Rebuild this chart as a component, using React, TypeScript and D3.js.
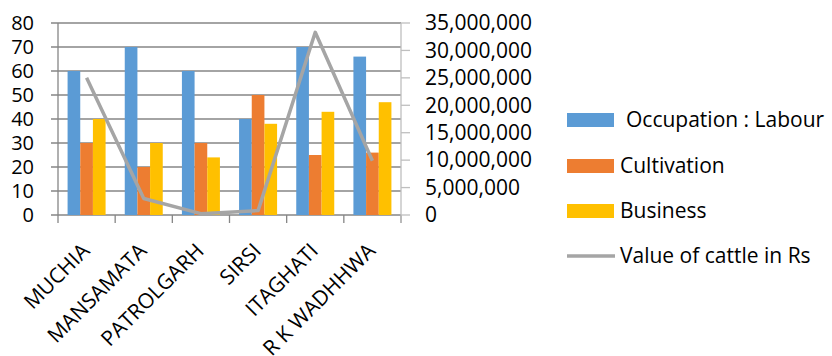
import { useEffect, useRef } from "react";
import * as d3 from "d3";

const villages = ["MUCHIA", "MANSAMATA", "PATROLGARH", "SIRSI", "ITAGHATI", "R K WADHHWA"];
const labour = [60, 70, 60, 40, 70, 66];
const cultivation = [30, 20, 30, 50, 25, 26];
const business = [40, 30, 24, 38, 43, 47];
const cattleValue = [25000000, 3000000, 250000, 800000, 33300000, 9900000];
const leftTicks = [0, 10, 20, 30, 40, 50, 60, 70, 80];
const rightTicks = [0, 5000000, 10000000, 15000000, 20000000, 25000000, 30000000, 35000000];

const seriesNames = ["Occupation : Labour", "Cultivation", "Business"];
const seriesColors = ["#5B9BD5", "#ED7D31", "#FFC000"];

export default function App() {
  const svgRef = useRef<SVGSVGElement>(null);

  useEffect(() => {
    if (!svgRef.current) return;
    const svg = d3.select(svgRef.current);
    svg.selectAll("*").remove();

    const font = "'Open Sans', sans-serif";
    const fs = "21px";
    const left = 58;
    const right = 401;
    const top = 23;
    const bottom = 215;

    const x = d3.scaleBand<string>().domain(villages).range([left, right]);
    const xInner = d3.scaleBand<number>().domain([0, 1, 2]).range([0, 38]);
    const yL = d3.scaleLinear().domain([0, 80]).range([bottom, top]);
    const yR = d3.scaleLinear().domain([0, 35000000]).range([bottom, top]);

    // gridlines + left ticks
    svg
      .append("g")
      .selectAll("line")
      .data(leftTicks)
      .enter()
      .append("line")
      .attr("x1", left - 7)
      .attr("x2", right)
      .attr("y1", (d) => yL(d))
      .attr("y2", (d) => yL(d))
      .style("stroke", "#868686")
      .style("stroke-width", "1.3px");

    // left axis line
    svg
      .append("line")
      .attr("x1", left)
      .attr("x2", left)
      .attr("y1", top)
      .attr("y2", bottom + 8)
      .style("stroke", "#868686")
      .style("stroke-width", "1.3px");

    // category ticks
    const catEdges = villages.map((v) => x(v)!).concat([right]);
    svg
      .append("g")
      .selectAll("line")
      .data(catEdges.slice(1))
      .enter()
      .append("line")
      .attr("x1", (d) => d)
      .attr("x2", (d) => d)
      .attr("y1", bottom)
      .attr("y2", bottom + 8)
      .style("stroke", "#868686")
      .style("stroke-width", "1.3px");

    // left tick labels
    svg
      .append("g")
      .selectAll("text")
      .data(leftTicks)
      .enter()
      .append("text")
      .attr("x", 34)
      .attr("y", (d) => yL(d))
      .attr("dy", "0.35em")
      .attr("text-anchor", "end")
      .style("font-family", font)
      .style("font-size", "20px")
      .style("fill", "#000")
      .text((d) => d);

    // bars
    const seriesData = [labour, cultivation, business];
    seriesData.forEach((vals, si) => {
      svg
        .append("g")
        .selectAll("rect")
        .data(vals)
        .enter()
        .append("rect")
        .attr("x", (d, i) => x(villages[i])! + (x.bandwidth() - 38) / 2 + xInner(si)!)
        .attr("width", xInner.bandwidth())
        .attr("y", (d) => yL(d))
        .attr("height", (d) => bottom - yL(d))
        .style("fill", seriesColors[si]);
    });

    // right axis
    svg
      .append("line")
      .attr("x1", right)
      .attr("x2", right)
      .attr("y1", top)
      .attr("y2", bottom + 8)
      .style("stroke", "#BFBFBF")
      .style("stroke-width", "1.3px");

    svg
      .append("g")
      .selectAll("line")
      .data(rightTicks)
      .enter()
      .append("line")
      .attr("x1", right)
      .attr("x2", right + 9)
      .attr("y1", (d) => yR(d))
      .attr("y2", (d) => yR(d))
      .style("stroke", "#BFBFBF")
      .style("stroke-width", "1.3px");

    svg
      .append("g")
      .selectAll("text")
      .data(rightTicks)
      .enter()
      .append("text")
      .attr("x", 425)
      .attr("y", (d) => yR(d))
      .attr("dy", "0.35em")
      .style("font-family", font)
      .style("font-size", fs)
      .style("fill", "#000")
      .text((d) => d3.format(",")(d));

    // line series
    const line = d3
      .line<number>()
      .x((d, i) => x(villages[i])! + x.bandwidth() / 2)
      .y((d) => yR(d));

    svg
      .append("path")
      .attr("d", line(cattleValue))
      .style("fill", "none")
      .style("stroke", "#A5A5A5")
      .style("stroke-width", "3.5px")
      .style("stroke-linejoin", "round");

    // category labels
    svg
      .append("g")
      .selectAll("text")
      .data(villages)
      .enter()
      .append("text")
      .attr("transform", (d) => `translate(${x(d)! + x.bandwidth() / 2 - 1},${bottom + 32}) rotate(-45)`)
      .attr("text-anchor", "end")
      .attr("dy", "0.35em")
      .style("font-family", font)
      .style("font-size", fs)
      .style("fill", "#000")
      .text((d) => d);

    // legend
    const legendY = [120, 166, 211];
    const legend = svg.append("g");
    seriesNames.forEach((name, i) => {
      legend
        .append("rect")
        .attr("x", 567)
        .attr("y", legendY[i] - 7)
        .attr("width", 47)
        .attr("height", 14)
        .style("fill", seriesColors[i]);
      legend
        .append("text")
        .attr("x", i === 0 ? 626 : 620)
        .attr("y", legendY[i])
        .attr("dy", "0.35em")
        .style("font-family", font)
        .style("font-size", fs)
        .style("fill", "#000")
        .text(name);
    });
    legend
      .append("line")
      .attr("x1", 567)
      .attr("x2", 615)
      .attr("y1", 256)
      .attr("y2", 256)
      .style("stroke", "#A5A5A5")
      .style("stroke-width", "3.5px");
    legend
      .append("text")
      .attr("x", 620)
      .attr("y", 256)
      .attr("dy", "0.35em")
      .style("font-family", font)
      .style("font-size", fs)
      .style("fill", "#000")
      .text("Value of cattle in Rs");
  }, []);

  return (
    <svg
      ref={svgRef}
      width={832}
      height={356}
      style={{ position: "absolute", left: 0, top: 0, background: "#fff" }}
    ></svg>
  );
}
